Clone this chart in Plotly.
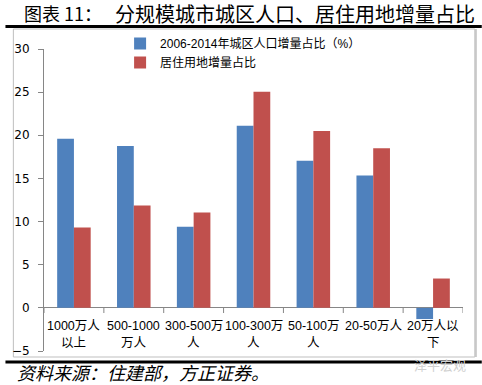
import plotly.graph_objects as go

# ---- data ----
categories = ["1000万人以上", "500-1000万人", "300-500万人", "100-300万人", "50-100万人", "20-50万人", "20万人以下"]
tick_labels = ["1000万人<br>以上", "500-1000<br>万人", "300-500万<br>人", "100-300万<br>人", "50-100万<br>人", "20-50万人", "20万人以<br>下"]
pop_share = [19.6, 18.75, 9.4, 21.1, 17.05, 15.35, -1.3]
land_share = [9.3, 11.85, 11.05, 25.05, 20.5, 18.5, 3.4]
series_names = ["2006-2014年城区人口增量占比（%）", "居住用地增量占比"]
title_left = "图表 11："
title_right = "分规模城市城区人口、居住用地增量占比"
source_text = "资料来源：住建部，方正证券。"
watermark = "泽平宏观"

W, H = 482, 385
L, R, T, B = 39, 463, 49, 351  # plot area in pixels

def px2x(px):
    return (px - L) / (R - L)

def py2y(py):
    return (B - py) / (B - T)

BLUE = "#4F81BD"
RED = "#C0504D"
AXIS = "#868686"
FONT = "Liberation Sans, Noto Sans CJK SC"
TFONT = "DejaVu Sans, Noto Sans CJK SC"

fig = go.Figure()
fig.add_trace(go.Bar(x=categories, y=pop_share, name=series_names[0],
                     marker=dict(color=BLUE, line=dict(width=0))))
fig.add_trace(go.Bar(x=categories, y=land_share, name=series_names[1],
                     marker=dict(color=RED, line=dict(width=0))))

shapes = []
# category boundary tick marks below the zero line
for k in range(len(categories) + 1):
    shapes.append(dict(type="line", xref="x", yref="y", x0=k - 0.5, x1=k - 0.5,
                       y0=0, y1=-0.6, line=dict(color=AXIS, width=1)))
# chart frame
shapes.append(dict(type="rect", xref="paper", yref="paper",
                   x0=px2x(8), x1=px2x(475), y0=py2y(357), y1=py2y(29),
                   line=dict(color="#BFBFBF", width=1), layer="below"))
shapes.append(dict(type="line", xref="paper", yref="paper", x0=px2x(476), x1=px2x(476),
                   y0=py2y(357), y1=py2y(29), line=dict(color="#C8C8C8", width=2)))
# thick black rules
shapes.append(dict(type="line", xref="paper", yref="paper", x0=px2x(0), x1=px2x(482),
                   y0=py2y(26.5), y1=py2y(26.5), line=dict(color="black", width=3)))
shapes.append(dict(type="line", xref="paper", yref="paper", x0=px2x(0), x1=px2x(482),
                   y0=py2y(362), y1=py2y(362), line=dict(color="black", width=3)))

annotations = []
for i, lab in enumerate(tick_labels):
    parts = lab.split("<br>")
    ys = [-2.14, -4.08]
    for j, p in enumerate(parts):
        annotations.append(dict(x=i, y=ys[j], xref="x", yref="y", text=p, showarrow=False,
                                xanchor="center", yanchor="middle",
                                font=dict(family=FONT, size=12.5, color="black")))
annotations.append(dict(x=px2x(17), y=py2y(13), xref="paper", yref="paper", text=title_left,
                        showarrow=False, xanchor="left", yanchor="middle",
                        font=dict(family="Noto Sans CJK SC", size=18, color="black")))
annotations.append(dict(x=px2x(109), y=py2y(13), xref="paper", yref="paper", text=title_right,
                        showarrow=False, xanchor="left", yanchor="middle",
                        font=dict(family="Noto Sans CJK SC", size=20, color="black")))
annotations.append(dict(x=px2x(10), y=py2y(372), xref="paper", yref="paper",
                        text="<i>" + source_text + "</i>",
                        showarrow=False, xanchor="left", yanchor="middle",
                        font=dict(family="Noto Sans CJK SC", size=18, color="black")))
annotations.append(dict(x=px2x(440), y=py2y(364), xref="paper", yref="paper", text=watermark,
                        showarrow=False, xanchor="center", yanchor="middle",
                        font=dict(family="Noto Sans CJK SC", size=13, color="#D0D0D0")))

fig.update_layout(
    width=W, height=H,
    margin=dict(l=L, r=W - R, t=T, b=H - B, pad=0),
    paper_bgcolor="white", plot_bgcolor="white",
    barmode="group", bargap=0.44, bargroupgap=0,
    showlegend=True,
    legend=dict(x=px2x(116), y=py2y(29), xanchor="left", yanchor="top",
                bgcolor="rgba(0,0,0,0)", font=dict(family=FONT, size=12, color="black"),
                tracegroupgap=0),
    xaxis=dict(range=[-0.5, 6.5], showticklabels=False, showline=False, showgrid=False,
               zeroline=False, ticks=""),
    yaxis=dict(range=[-5, 30], dtick=5, tick0=0, showgrid=False, showline=True, linecolor=AXIS,
               linewidth=1, ticks="outside", ticklen=5, tickcolor=AXIS,
               ticklabelstandoff=6,
               zeroline=True, zerolinecolor=AXIS, zerolinewidth=1,
               tickfont=dict(family=TFONT, size=12, color="black")),
    shapes=shapes,
    annotations=annotations,
)

fig.write_html("out.html", config={"displayModeBar": False},
               post_script="document.body.style.margin='0';document.body.style.padding='0';")
